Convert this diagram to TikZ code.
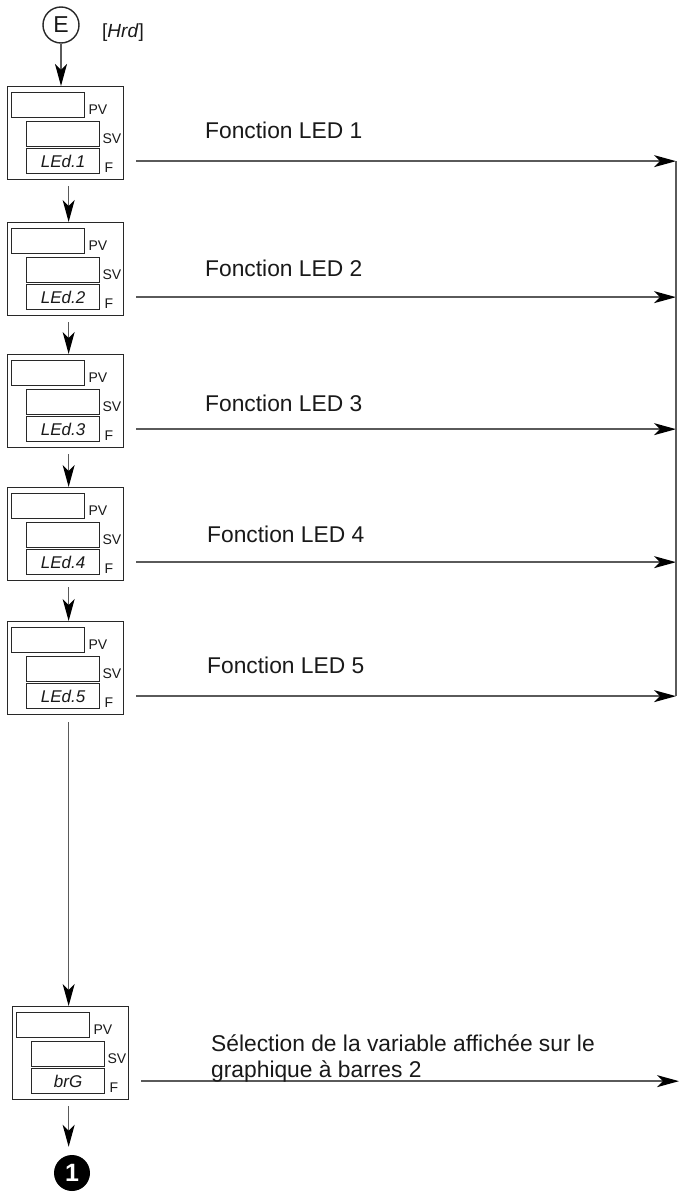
\documentclass[tikz,border=0pt]{standalone}
\usepackage{fontspec}
\setmainfont{Liberation Sans}
\usetikzlibrary{arrows.meta}
\definecolor{linegray}{RGB}{90,90,90}
\definecolor{boxgray}{RGB}{40,40,40}
\definecolor{textgray}{RGB}{25,25,25}
\newcommand{\dispbox}[4]{%
  \node[outerbox, anchor=north west] (#1) at (#2,#3) {};
  \node[disp, anchor=north west] (#1pv) at ([xshift=4pt,yshift=-6pt]#1.north west) {};
  \node[disp, anchor=north west] (#1sv) at ([xshift=19pt,yshift=-35pt]#1.north west) {};
  \node[disp, anchor=north west] (#1f) at ([xshift=19pt,yshift=-62pt]#1.north west) {};
  \node[seg] (#1txt) at (#1f.center) {#4};
  \node[tag, anchor=base west] (#1pvl) at ([xshift=3pt,yshift=4pt]#1pv.south east) {PV};
  \node[tag, anchor=base west] (#1svl) at ([xshift=2pt,yshift=4pt]#1sv.south east) {SV};
  \node[tag, anchor=base west] (#1fl) at ([xshift=4pt,yshift=2pt]#1f.south east) {F};
}
\begin{document}
\begin{tikzpicture}[x=1pt,y=-1pt,
  conn/.style={draw=linegray, line width=1.5pt},
  arr/.style={conn, -{Stealth[length=22pt,width=12pt,inset=6pt,color=black]}},
  outerbox/.style={draw=boxgray, line width=1.3pt, minimum width=116pt, minimum height=93pt, inner sep=0pt},
  disp/.style={draw=boxgray, line width=1.3pt, minimum width=73pt, minimum height=25pt, inner sep=0pt},
  tag/.style={font=\fontsize{14}{15}\selectfont, inner sep=0pt, text=textgray},
  seg/.style={font=\fontsize{17}{18}\selectfont\itshape, inner sep=0pt, text=textgray},
  lbl/.style={font=\fontsize{22.8}{26}\selectfont, inner sep=0pt, text=textgray, anchor=base west}]
\useasboundingbox (0,0) rectangle (680,1196);
\fill[white] (0,0) rectangle (680,1196);

% entry
\node[circle, draw=boxgray, line width=1.4pt, minimum size=36pt, inner sep=0pt,
      font=\fontsize{23}{24}\selectfont, text=textgray] (e) at (61,25) {E};
\node[anchor=west, inner sep=0pt, font=\fontsize{19}{20}\selectfont, text=textgray] (hrd) at (102,33) {[\textit{Hrd}]};

% display boxes
\dispbox{b1}{7}{86}{LEd.1}
\dispbox{b2}{7}{222}{LEd.2}
\dispbox{b3}{7}{354}{LEd.3}
\dispbox{b4}{7}{487}{LEd.4}
\dispbox{b5}{7}{621}{LEd.5}
\dispbox{b6}{12}{1006}{brG}

% end marker
\node[circle, fill=black, minimum size=36pt, inner sep=0pt, text=white,
      font=\fontsize{25}{25}\selectfont\bfseries] (one) at (72,1173) {1};

% vertical flow
\draw[arr] (e.south) -- (e.south |- b1.north);
\draw[arr] ([xshift=3pt,yshift=-6pt]b1.south) -- ([xshift=3pt]b2.north);
\draw[arr] ([xshift=3pt,yshift=-6pt]b2.south) -- ([xshift=3pt]b3.north);
\draw[arr] ([xshift=3pt,yshift=-6pt]b3.south) -- ([xshift=3pt]b4.north);
\draw[arr] ([xshift=3pt,yshift=-6pt]b4.south) -- ([xshift=3pt]b5.north);
\draw[arr] ([xshift=3pt,yshift=-7pt]b5.south) -- ([xshift=-2pt]b6.north);
\draw[arr, shorten >=8pt] ([xshift=-2pt,yshift=-6pt]b6.south) -- ([xshift=-2pt]b6.south |- one.north);

% right bus
\coordinate (rline) at (676,0);
\coordinate (rbar) at (679,0);
\draw[arr] ([xshift=36pt]b1f.east) -- (b1f.east -| rline);
\draw[arr] ([xshift=36pt]b2f.east) -- (b2f.east -| rline);
\draw[arr] ([xshift=36pt]b3f.east) -- (b3f.east -| rline);
\draw[arr] ([xshift=36pt]b4f.east) -- (b4f.east -| rline);
\draw[arr] ([xshift=36pt]b5f.east) -- (b5f.east -| rline);
\draw[conn] (b1f.east -| rline) -- (b5f.east -| rline);
\draw[arr] ([xshift=36pt]b6f.east) -- (b6f.east -| rbar);

% labels
\node[lbl] (t1) at (205,139) {Fonction LED 1};
\node[lbl] (t2) at (205,276) {Fonction LED 2};
\node[lbl] (t3) at (205,411) {Fonction LED 3};
\node[lbl] (t4) at (207,542) {Fonction LED 4};
\node[lbl] (t5) at (207,673) {Fonction LED 5};
\node[lbl] (t6a) at (211,1051) {Sélection de la variable affichée sur le};
\node[lbl] (t6b) at (211,1077) {graphique à barres 2};
\end{tikzpicture}
\end{document}
